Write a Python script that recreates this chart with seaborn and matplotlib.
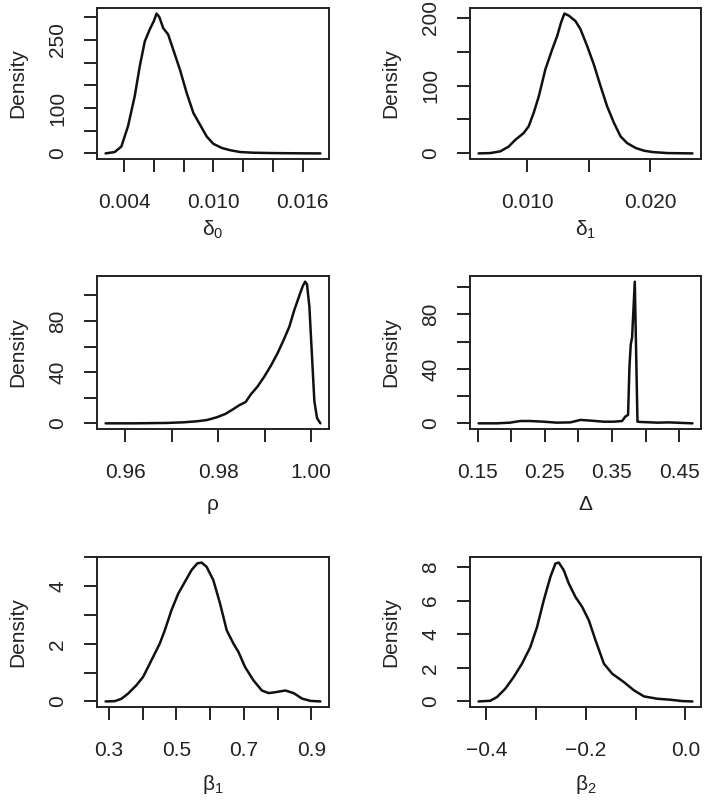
import matplotlib
matplotlib.use("Agg")
import matplotlib.pyplot as plt
import seaborn as sns

# Posterior density curves
delta0_x = [0.00274, 0.00335, 0.0038, 0.00425, 0.0047, 0.00504, 0.00538, 0.00571, 0.00598,
            0.00617, 0.00635, 0.00662, 0.00695, 0.00729, 0.00774, 0.0082, 0.00865, 0.0091,
            0.00955, 0.0100, 0.01056, 0.01113, 0.0118, 0.0127, 0.0141, 0.0159, 0.0172]
delta0_y = [0, 3, 15, 60, 126, 192, 247, 273, 291, 308, 301, 276, 262, 229, 185, 133, 89, 63,
            37, 21, 12, 7, 3, 1.5, 0.7, 0.2, 0]

delta1_x = [0.00602, 0.00698, 0.00779, 0.00847, 0.00902, 0.0097, 0.01011, 0.01052, 0.01093,
            0.01147, 0.01202, 0.01243, 0.01275, 0.01302, 0.01338, 0.01392, 0.01433, 0.01488,
            0.01542, 0.01597, 0.01651, 0.01706, 0.0176, 0.01815, 0.01883, 0.01951, 0.0202,
            0.02142, 0.02346]
delta1_y = [0, 0.5, 3, 10, 20, 30, 40, 60, 84, 124, 153, 173, 193, 206, 203, 195, 183, 158,
            131, 99, 69, 45, 25, 15, 8, 4, 2, 0.5, 0]

rho_x = [0.95573, 0.96166, 0.9689, 0.97251, 0.97541, 0.97758, 0.97976, 0.98157, 0.98338,
         0.98447, 0.98592, 0.987, 0.98844, 0.98989, 0.99134, 0.99279, 0.99423, 0.99532,
         0.99641, 0.99749, 0.99822, 0.99873, 0.99913, 0.99964, 1.00014, 1.00072, 1.0013, 1.00202]
rho_y = [0, 0, 0.3, 0.8, 1.6, 2.6, 4.8, 7.4, 11.4, 14, 16.7, 22.5, 28.6, 36.3, 45, 54.8, 66.2,
         75.5, 88.7, 99.9, 107.3, 110.7, 108.6, 91.4, 57, 17.2, 4, 0]

Delta_x = [0.151, 0.178, 0.198, 0.213, 0.228, 0.248, 0.268, 0.288, 0.303, 0.318, 0.338, 0.353,
           0.365, 0.370, 0.374, 0.376, 0.378, 0.380, 0.384, 0.388, 0.393, 0.418, 0.435, 0.470]
Delta_y = [0, 0, 0.5, 1.7, 1.7, 1.2, 0.5, 0.7, 2.5, 2, 1.2, 1.2, 1.7, 5, 6.2, 40.9, 58, 63,
           104, 1.2, 1, 0.5, 0.7, 0]

beta1_x = [0.2901, 0.3169, 0.3367, 0.3565, 0.3813, 0.4012, 0.421, 0.4359, 0.4508, 0.4657,
           0.4855, 0.5054, 0.5252, 0.545, 0.5619, 0.5748, 0.5897, 0.6095, 0.6294, 0.6492,
           0.669, 0.6839, 0.7038, 0.7286, 0.7534, 0.7732, 0.793, 0.8228, 0.8476, 0.8724,
           0.8972, 0.927]
beta1_y = [0, 0.01, 0.09, 0.27, 0.56, 0.85, 1.31, 1.66, 2.01, 2.47, 3.17, 3.74, 4.15, 4.56,
           4.79, 4.82, 4.67, 4.21, 3.4, 2.47, 2.01, 1.72, 1.19, 0.73, 0.38, 0.29, 0.32, 0.38,
           0.29, 0.1, 0.02, 0]

beta2_x = [-0.41544, -0.39195, -0.37852, -0.36174, -0.34497, -0.32819, -0.31141, -0.29799,
           -0.28456, -0.27114, -0.26107, -0.25436, -0.2443, -0.23423, -0.22081, -0.20738,
           -0.19396, -0.18054, -0.16376, -0.14698, -0.12349, -0.10336, -0.08322, -0.05638,
           -0.02953, -0.00604, 0.01409]
beta2_y = [0, 0.04, 0.26, 0.76, 1.45, 2.25, 3.24, 4.43, 6.02, 7.42, 8.21, 8.27, 7.81, 7.02,
           6.22, 5.63, 4.83, 3.64, 2.25, 1.65, 1.15, 0.66, 0.3, 0.16, 0.1, 0.02, 0]

# Ticks and their labels (R leaves some ticks unlabelled)
delta0_xticks = [0.004, 0.006, 0.008, 0.010, 0.012, 0.014, 0.016]
delta0_xlabels = ["0.004", "", "", "0.010", "", "", "0.016"]
delta0_yticks = [0, 50, 100, 150, 200, 250, 300]
delta0_ylabels = ["0", "", "100", "", "", "250", ""]

delta1_xticks = [0.010, 0.015, 0.020]
delta1_xlabels = ["0.010", "", "0.020"]
delta1_yticks = [0, 50, 100, 150, 200]
delta1_ylabels = ["0", "", "100", "", "200"]

rho_xticks = [0.96, 0.97, 0.98, 0.99, 1.00]
rho_xlabels = ["0.96", "", "0.98", "", "1.00"]
rho_yticks = [0, 20, 40, 60, 80, 100]
rho_ylabels = ["0", "", "40", "", "80", ""]

Delta_xticks = [0.15, 0.20, 0.25, 0.30, 0.35, 0.40, 0.45]
Delta_xlabels = ["0.15", "", "0.25", "", "0.35", "", "0.45"]
Delta_yticks = [0, 20, 40, 60, 80, 100]
Delta_ylabels = ["0", "", "40", "", "80", ""]

beta1_xticks = [0.3, 0.4, 0.5, 0.6, 0.7, 0.8, 0.9]
beta1_xlabels = ["0.3", "", "0.5", "", "0.7", "", "0.9"]
beta1_yticks = [0, 1, 2, 3, 4, 5]
beta1_ylabels = ["0", "", "2", "", "4", ""]

beta2_xticks = [-0.4, -0.3, -0.2, -0.1, 0.0]
beta2_xlabels = ["\u22120.4", "", "\u22120.2", "", "0.0"]
beta2_yticks = [0, 2, 4, 6, 8]
beta2_ylabels = ["0", "2", "4", "6", "8"]

panels = [
    (delta0_x, delta0_y, r"$\mathregular{δ_0}$", delta0_xticks, delta0_xlabels, delta0_yticks, delta0_ylabels),
    (delta1_x, delta1_y, r"$\mathregular{δ_1}$", delta1_xticks, delta1_xlabels, delta1_yticks, delta1_ylabels),
    (rho_x, rho_y, "ρ", rho_xticks, rho_xlabels, rho_yticks, rho_ylabels),
    (Delta_x, Delta_y, "Δ", Delta_xticks, Delta_xlabels, Delta_yticks, Delta_ylabels),
    (beta1_x, beta1_y, r"$\mathregular{β_1}$", beta1_xticks, beta1_xlabels, beta1_yticks, beta1_ylabels),
    (beta2_x, beta2_y, r"$\mathregular{β_2}$", beta2_xticks, beta2_xlabels, beta2_yticks, beta2_ylabels),
]

sns.set_style("ticks")
plt.rcParams["font.family"] = ["Liberation Sans", "DejaVu Sans"]
plt.rcParams["font.size"] = 15
plt.rcParams["axes.linewidth"] = 1.4

W, H = 714, 802
fig = plt.figure(figsize=(W / 100, H / 100), dpi=100)

# axes boxes in pixels: left, top, right, bottom
boxes = [(97, 8, 329, 159), (470, 8, 701, 159),
         (97, 276, 329, 429), (470, 276, 701, 429),
         (97, 557, 329, 707), (470, 557, 701, 707)]
xlabel_y = [-0.395, -0.395, -0.43, -0.43, -0.44, -0.44]

for (xs, ys, lab, xt, xl, yt, yl), (l, t, r, b), ly in zip(panels, boxes, xlabel_y):
    ax = fig.add_axes([l / W, 1 - b / H, (r - l) / W, (b - t) / H])
    sns.lineplot(x=xs, y=ys, ax=ax, color="#111111", linewidth=1.8,
                 sort=False, estimator=None)
    ax.margins(x=0.04, y=0.04)
    ax.set_xticks(xt)
    ax.set_xticklabels(xl)
    ax.set_yticks(yt)
    ax.set_yticklabels(yl, rotation=90, va="center")
    ax.tick_params(axis="both", length=9.5, width=1.4, color="#222222",
                   labelcolor="#222222", labelsize=15)
    ax.tick_params(axis="x", pad=15)
    ax.tick_params(axis="y", pad=12)
    for s in ax.spines.values():
        s.set_visible(True)
        s.set_color("#222222")
    ax.set_xlabel(lab, fontsize=15, color="#222222")
    ax.set_ylabel("Density", fontsize=15, color="#222222")
    ax.xaxis.set_label_coords(0.5, ly)
    ax.yaxis.set_label_coords(-0.30, 0.5)

fig.savefig("out.png", dpi=100, facecolor="white")
